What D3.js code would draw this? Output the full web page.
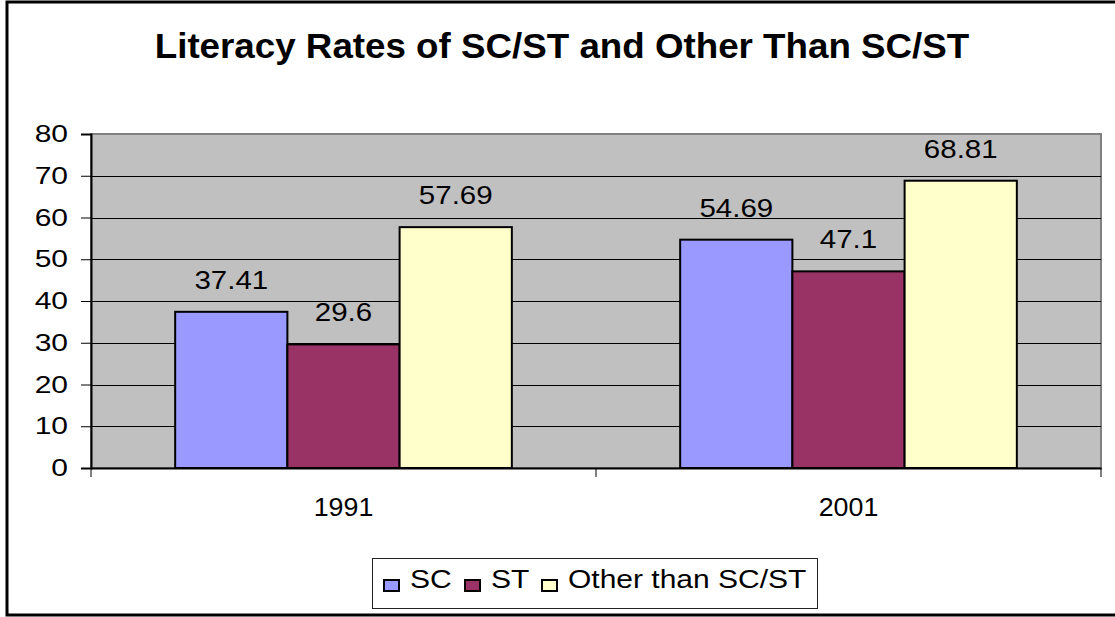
<!DOCTYPE html>
<html>
<head>
<meta charset="utf-8">
<script src="https://cdn.jsdelivr.net/npm/d3@7"></script>
<style>
  body { margin: 0; background: #fff; }
  svg text { font-family: Arial, "Liberation Sans", sans-serif; fill: #000; }
</style>
</head>
<body>
<script>
const years = ['1991', '2001'];
const seriesNames = ['SC', 'ST', 'Other than SC/ST'];
const scValues = [37.41, 54.69];
const stValues = [29.6, 47.1];
const otherValues = [57.69, 68.81];
const seriesColors = ['#9999ff', '#993366', '#ffffcc'];
const yTicks = [0, 10, 20, 30, 40, 50, 60, 70, 80];

const seriesValues = [scValues, stValues, otherValues];

const width = 1115, height = 617;
const plot = { left: 91, right: 1101, top: 134, bottom: 468 };
const font = 'Arial, "Liberation Sans", sans-serif';

const svg = d3.select('body')
    .append('svg')
    .attr('width', width)
    .attr('height', height);

// outer chart frame (right edge falls outside the picture)
svg.append('rect')
    .attr('x', 7)
    .attr('y', 2)
    .attr('width', 1120)
    .attr('height', 613)
    .attr('fill', '#fff')
    .attr('stroke', '#000')
    .attr('stroke-width', 3);

svg.append('text')
    .attr('transform', 'translate(562,58) scale(1.05,1)')
    .attr('text-anchor', 'middle')
    .attr('font-size', 35)
    .attr('font-weight', 'bold')
    .text('Literacy Rates of SC/ST and Other Than SC/ST');

const x0 = d3.scaleBand()
    .domain(years)
    .range([plot.left, plot.right]);

const x1 = d3.scaleBand()
    .domain(seriesNames)
    .range([0, x0.bandwidth()])
    .paddingOuter(0.75);

const y = d3.scaleLinear()
    .domain([0, 80])
    .range([plot.bottom, plot.top]);

// plot area
svg.append('rect')
    .attr('x', plot.left)
    .attr('y', plot.top)
    .attr('width', plot.right - plot.left)
    .attr('height', plot.bottom - plot.top)
    .attr('fill', '#c0c0c0')
    .attr('stroke', '#808080')
    .attr('stroke-width', 2);

// gridlines
svg.append('g')
    .selectAll('line')
    .data(yTicks.filter(d => d > 0 && d < 80))
    .enter()
    .append('line')
    .attr('x1', plot.left)
    .attr('x2', plot.right)
    .attr('y1', d => Math.round(y(d)) + 0.5)
    .attr('y2', d => Math.round(y(d)) + 0.5)
    .attr('stroke', '#000')
    .attr('stroke-width', 1);

// bars
const rows = [];
years.forEach((yr, i) => {
    seriesNames.forEach((s, j) => {
        rows.push({ year: yr, series: s, value: seriesValues[j][i], color: seriesColors[j] });
    });
});

svg.append('g')
    .selectAll('rect')
    .data(rows)
    .enter()
    .append('rect')
    .attr('x', d => x0(d.year) + x1(d.series))
    .attr('y', d => y(d.value))
    .attr('width', x1.bandwidth())
    .attr('height', d => y(0) - y(d.value))
    .attr('fill', d => d.color)
    .attr('stroke', '#000')
    .attr('stroke-width', 2);

svg.append('g')
    .selectAll('text')
    .data(rows)
    .enter()
    .append('text')
    .attr('transform', d => `translate(${x0(d.year) + x1(d.series) + x1.bandwidth() / 2},${y(d.value) - 23}) scale(1.18,1)`)
    .attr('text-anchor', 'middle')
    .attr('font-size', 25)
    .text(d => d.value);

// y axis
const yAxis = d3.axisLeft(y)
    .tickValues(yTicks)
    .tickSize(10);

const gy = svg.append('g')
    .attr('transform', `translate(${plot.left},0)`)
    .call(yAxis);
gy.select('.domain').attr('stroke', '#000').attr('stroke-width', 2);
gy.selectAll('.tick line').attr('stroke', '#000');
gy.selectAll('.tick text')
    .attr('x', -23 / 1.25)
    .attr('transform', 'scale(1.25,1)')
    .attr('font-size', 24)
    .attr('font-family', font);

// x axis
const xAxis = d3.axisBottom(x0)
    .tickSize(0)
    .tickPadding(30);

const gx = svg.append('g')
    .attr('transform', `translate(0,${plot.bottom})`)
    .call(xAxis);
gx.select('.domain').attr('stroke', '#000').attr('stroke-width', 2);
gx.selectAll('.tick text')
    .attr('transform', 'scale(1.05,1)')
    .attr('font-size', 25.5)
    .attr('font-family', font);

// category separators
svg.append('g')
    .selectAll('line')
    .data([plot.left, x0(years[1]), plot.right])
    .enter()
    .append('line')
    .attr('x1', d => d)
    .attr('x2', d => d)
    .attr('y1', plot.bottom)
    .attr('y2', plot.bottom + 9)
    .attr('stroke', '#000')
    .attr('stroke-width', 1);

// legend
const legend = svg.append('g');
legend.append('rect')
    .attr('x', 372.5)
    .attr('y', 558.5)
    .attr('width', 445)
    .attr('height', 50)
    .attr('fill', '#fff')
    .attr('stroke', '#222')
    .attr('stroke-width', 1);

const legendX = [384, 465, 542];
const items = legend.selectAll('g.item')
    .data(seriesNames)
    .enter()
    .append('g')
    .attr('class', 'item')
    .attr('transform', (d, i) => `translate(${legendX[i]},580)`);

items.append('rect')
    .attr('width', 15)
    .attr('height', 11)
    .attr('fill', (d, i) => seriesColors[i])
    .attr('stroke', '#000')
    .attr('stroke-width', 2);

items.append('text')
    .attr('transform', 'translate(26,8) scale(1.2,1)')
    .attr('font-size', 25)
    .text(d => d);
</script>
</body>
</html>
